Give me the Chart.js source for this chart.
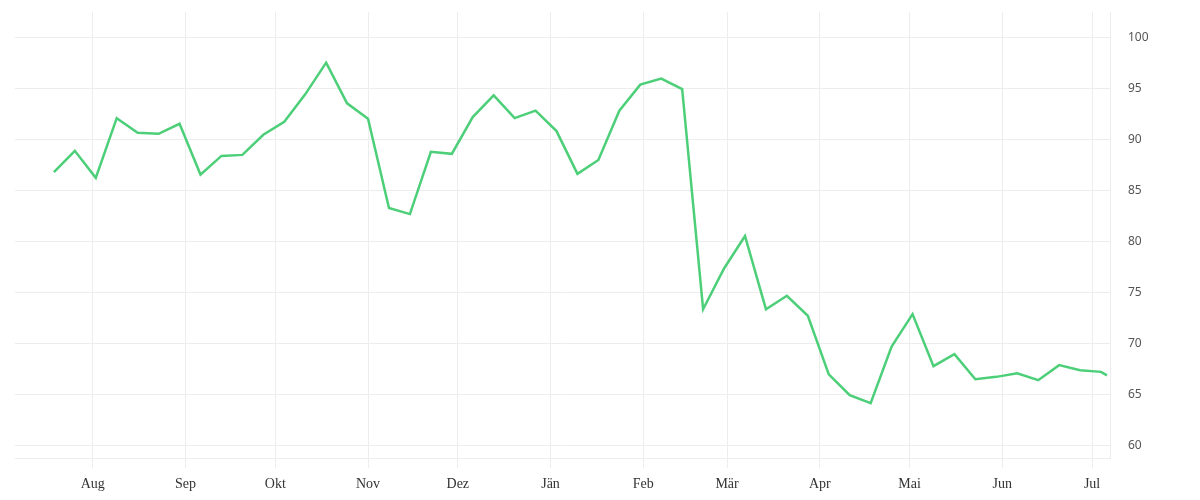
<!DOCTYPE html>
<html>
<head>
<meta charset="utf-8">
<script src="https://cdn.jsdelivr.net/npm/chart.js@4"></script>
<style>
  html, body { margin: 0; padding: 0; background: #fff; }
  #wrap { width: 1200px; height: 500px; }
</style>
</head>
<body>
<div id="wrap"><canvas id="lineChart"></canvas></div>
<script>
// weekly readings, last one is a partial week
const dates = [
  '2022-07-19', '2022-07-26', '2022-08-02', '2022-08-09', '2022-08-16', '2022-08-23', '2022-08-30',
  '2022-09-06', '2022-09-13', '2022-09-20', '2022-09-27', '2022-10-04', '2022-10-11', '2022-10-18',
  '2022-10-25', '2022-11-01', '2022-11-08', '2022-11-15', '2022-11-22', '2022-11-29', '2022-12-06',
  '2022-12-13', '2022-12-20', '2022-12-27', '2023-01-03', '2023-01-10', '2023-01-17', '2023-01-24',
  '2023-01-31', '2023-02-07', '2023-02-14', '2023-02-21', '2023-02-28', '2023-03-07', '2023-03-14',
  '2023-03-21', '2023-03-28', '2023-04-04', '2023-04-11', '2023-04-18', '2023-04-25', '2023-05-02',
  '2023-05-09', '2023-05-16', '2023-05-23', '2023-05-30', '2023-06-06', '2023-06-13', '2023-06-20',
  '2023-06-27', '2023-07-04', '2023-07-06'
];
const values = [
  86.8, 88.9, 86.25, 92.1, 90.67, 90.57, 91.55,
  86.57, 88.4, 88.5, 90.47, 91.75, 94.43, 97.54,
  93.55, 92.04, 83.3, 82.7, 88.8, 88.6, 92.2,
  94.33, 92.1, 92.83, 90.83, 86.64, 88.0, 92.83,
  95.38, 95.97, 94.95, 73.38, 77.37, 80.55, 73.38,
  74.7, 72.74, 67.0, 64.95, 64.17, 69.73, 72.9,
  67.8, 68.98, 66.52, 66.75, 67.1, 66.42, 67.9,
  67.4, 67.24, 66.9
];
const monthTicks = [
  '2022-08-01', '2022-09-01', '2022-10-01', '2022-11-01', '2022-12-01', '2023-01-01',
  '2023-02-01', '2023-03-01', '2023-04-01', '2023-05-01', '2023-06-01', '2023-07-01'
];
const monthLabels = ['Aug', 'Sep', 'Okt', 'Nov', 'Dez', 'Jän', 'Feb', 'Mär', 'Apr', 'Mai', 'Jun', 'Jul'];
const yTicks = [60, 65, 70, 75, 80, 85, 90, 95, 100];

const ms = d => Date.parse(d + 'T00:00:00Z');
const tickMs = monthTicks.map(ms);

const lineData = {
  datasets: [{
    label: 'Wert',
    data: dates.map((d, i) => ({ x: ms(d), y: values[i] })),
    borderColor: '#4ccf78',
    borderWidth: 2.5,
    pointRadius: 0,
    tension: 0,
    fill: false
  }]
};

const gridColor = '#ededed';

const lineConfig = {
  type: 'line',
  data: lineData,
  options: {
    responsive: true,
    maintainAspectRatio: false,
    animation: false,
    layout: { padding: { top: 12, left: 15, right: 0, bottom: 0 } },
    plugins: {
      legend: { display: false },
      tooltip: { enabled: false }
    },
    scales: {
      x: {
        type: 'linear',
        min: ms('2022-07-06'),
        max: ms('2023-07-07'),
        afterBuildTicks: scale => { scale.ticks = tickMs.map(v => ({ value: v })); },
        afterFit: scale => { scale.height = 42; scale.paddingLeft = 0; scale.paddingRight = 0; },
        grid: { color: gridColor, tickLength: 10, lineWidth: 1 },
        border: { color: gridColor },
        ticks: {
          autoSkip: false,
          maxRotation: 0,
          padding: 8,
          color: '#333',
          font: { family: '"Liberation Serif", serif', size: 14 },
          callback: v => monthLabels[tickMs.indexOf(v)]
        }
      },
      y: {
        position: 'right',
        min: 58.8,
        max: 102.5,
        afterBuildTicks: scale => { scale.ticks = yTicks.map(v => ({ value: v })); },
        afterFit: scale => { scale.width = 90; scale.paddingTop = 0; scale.paddingBottom = 0; },
        grid: { color: gridColor, drawTicks: false },
        border: { color: gridColor },
        ticks: {
          padding: 18,
          color: '#555',
          font: { family: '"Noto Sans", sans-serif', size: 12 }
        }
      }
    }
  }
};

const lineChart = new Chart(document.getElementById('lineChart'), lineConfig);
</script>
</body>
</html>
